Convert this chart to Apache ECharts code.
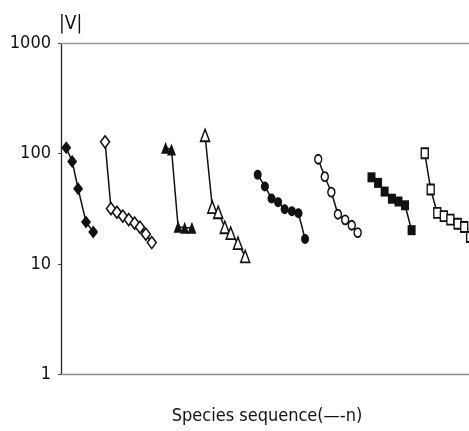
<!DOCTYPE html>
<html>
<head>
<meta charset="utf-8">
<script src="https://cdn.jsdelivr.net/npm/echarts@6/dist/echarts.min.js"></script>
<style>
  html, body { margin: 0; padding: 0; background: #fff; }
  #chart { width: 469px; height: 431px; }
</style>
</head>
<body>
<div id="chart"></div>
<script>
  // species sequence position (x) and |V| (y) for each group
  const xs1 = [0.8, 1.7, 2.6, 3.8, 4.9];
  const ys1 = [113, 85, 48, 24, 19.5];
  const xs2 = [6.7, 7.6, 8.5, 9.4, 10.3, 11.2, 12.0, 12.9, 13.8];
  const ys2 = [128, 31.7, 29.4, 27.1, 25.2, 23.4, 21.5, 18.6, 15.6];
  const xs3 = [15.9, 16.8, 17.8, 18.8, 19.9];
  const ys3 = [113, 109, 21.7, 21.3, 21.3];
  const xs4 = [21.9, 23.0, 23.9, 24.9, 25.8, 26.9, 28.0];
  const ys4 = [147, 32.7, 29.4, 21.5, 19.0, 15.4, 11.7];
  const xs5 = [29.9, 31.0, 32.0, 33.0, 34.0, 35.1, 36.1, 37.1];
  const ys5 = [64.4, 50.4, 39.2, 36.3, 31.3, 30.0, 28.8, 16.8];
  const xs6 = [39.1, 40.1, 41.1, 42.1, 43.2, 44.2, 45.1];
  const ys6 = [89, 61.8, 44.7, 28.2, 25.1, 22.4, 19.2];
  const xs7 = [47.2, 48.2, 49.2, 50.3, 51.3, 52.3, 53.3];
  const ys7 = [61, 54.3, 45.3, 39, 36.8, 34, 20.2];
  const xs8 = [55.3, 56.2, 57.2, 58.2, 59.2, 60.3, 61.3, 62.2];
  const ys8 = [101, 47.3, 29, 27.1, 25.2, 23.1, 21.6, 17.5];

  const yMin = 1, yMax = 1000;
  const xMin = 0, xMax = 64;

  // condensed DejaVu is close to the narrow face of the original
  const font = "'DejaVu Sans', 'Liberation Sans', sans-serif";
  const stretch = 'condensed';

  function group(xs, ys, symbol, size, filled) {
    return {
      type: 'line',
      data: xs.map((x, i) => [x, ys[i]]),
      symbol: symbol,
      symbolSize: size,
      showAllSymbol: true,
      clip: false,
      lineStyle: { color: '#111', width: 1.5 },
      itemStyle: {
        color: filled ? '#111' : '#fff',
        borderColor: '#111',
        borderWidth: filled ? 0 : 1.6
      },
      emphasis: { disabled: true },
      z: 3
    };
  }

  let chart = echarts.init(document.getElementById('chart'));
  chart.setOption({
    animation: false,
    grid: { left: 61, top: 43.5, width: 421, bottom: 57, containLabel: false, outerBoundsMode: 'none' },
    xAxis: [
      {
        type: 'value',
        min: xMin, max: xMax,
        name: 'Species sequence(\u2014-n)',
        nameLocation: 'middle',
        nameGap: 33,
        nameTextStyle: {
          color: '#111', fontFamily: font, fontStyle: stretch, fontSize: 18,
          verticalAlign: 'top', padding: [0, 9, 0, 0]
        },
        axisLine: { show: true, onZero: false, lineStyle: { color: '#888', width: 1.3 } },
        axisTick: { show: false },
        axisLabel: { show: false },
        splitLine: { show: false }
      },
      {
        type: 'value',
        position: 'top',
        min: xMin, max: xMax,
        axisLine: { show: true, onZero: false, lineStyle: { color: '#999', width: 1.3 } },
        axisTick: { show: false },
        axisLabel: { show: false },
        splitLine: { show: false }
      }
    ],
    yAxis: {
      type: 'log',
      logBase: 10,
      min: yMin, max: yMax,
      name: '|V|',
      nameLocation: 'end',
      nameGap: 10,
      nameTextStyle: { color: '#111', fontFamily: font, fontStyle: stretch, fontSize: 19, align: 'left', padding: [0, 0, 0, -2] },
      axisLine: { show: true, lineStyle: { color: '#222', width: 1.3 } },
      axisTick: { show: true, length: 3, lineStyle: { color: '#444' } },
      axisLabel: {
        color: '#111', fontFamily: font, fontStyle: stretch, fontSize: 18, margin: 10,
        formatter: (v) => String(v)
      },
      splitLine: { show: false },
      minorTick: { show: false }
    },
    series: [
      group(xs1, ys1, 'diamond', [10, 13], true),
      group(xs2, ys2, 'diamond', [9, 12], false),
      group(xs3, ys3, 'triangle', [9, 12], true),
      group(xs4, ys4, 'triangle', [9, 12], false),
      group(xs5, ys5, 'circle', [8, 10], true),
      group(xs6, ys6, 'circle', [7, 9], false),
      group(xs7, ys7, 'rect', [8, 10], true),
      group(xs8, ys8, 'rect', [7, 10], false)
    ]
  });
</script>
</body>
</html>
